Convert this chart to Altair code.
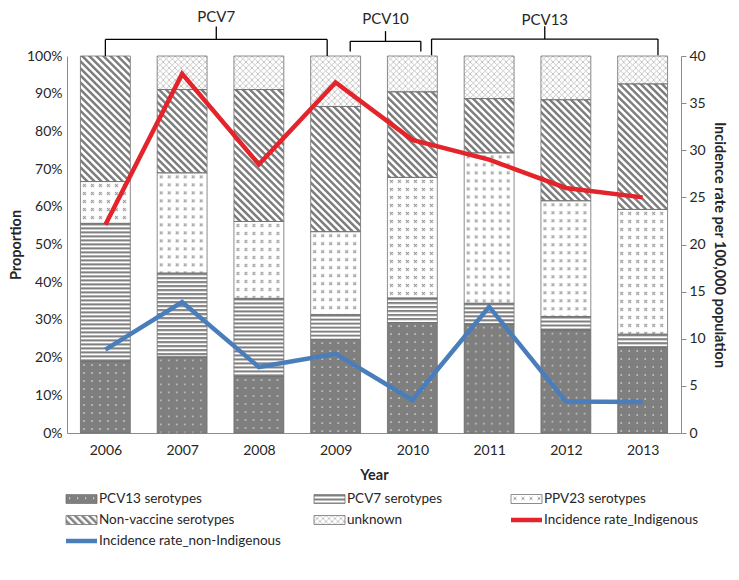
import urllib.parse
import altair as alt
import pandas as pd

# ---------------- data ----------------
years = [2006, 2007, 2008, 2009, 2010, 2011, 2012, 2013]
series = ["PCV13 serotypes", "PCV7 serotypes", "PPV23 serotypes",
          "Non-vaccine serotypes", "unknown"]
pcv13 = [19.0, 20.2, 15.0, 24.8, 29.3, 28.9, 27.3, 22.7]
pcv7 = [36.6, 22.2, 20.7, 6.6, 6.5, 5.5, 3.6, 3.5]
ppv23 = [11.1, 26.6, 20.4, 22.0, 32.0, 39.9, 30.7, 33.1]
nonvaccine = [33.3, 22.1, 35.0, 33.2, 22.7, 14.4, 26.8, 33.3]
unknown = [0.0, 8.9, 8.9, 13.4, 9.5, 11.3, 11.6, 7.4]

line_names = ["Incidence rate_Indigenous", "Incidence rate_non-Indigenous"]
rate_indigenous = [22.1, 38.1, 28.5, 37.2, 31.1, 29.0, 26.0, 25.0]
rate_non_indigenous = [8.85, 13.9, 7.0, 8.4, 3.5, 13.4, 3.35, 3.3]

brackets = ["PCV7", "PCV10", "PCV13"]
bracket_start = [2006.0, 2009.19, 2010.25]
bracket_end = [2008.89, 2010.11, 2013.2]

# ---------------- style ----------------
FONT = "Lato"
TXT = "#262626"
AXIS_GRAY = "#8c8c8c"
BAR_HALF = 0.325
PLOT_W, PLOT_H = 614, 377
RED, BLUE = "#E3242B", "#4A7EBB"
bracket_style = {
    "PCV7": dict(foot=100.0, bar=104.4, top=107.8, label=110.3),
    "PCV10": dict(foot=101.2, bar=103.9, top=106.6, label=109.7),
    "PCV13": dict(foot=100.2, bar=104.5, top=107.9, label=109.6),
}


def pattern_url(w, h, content, transform=""):
    tr = f" patternTransform='{transform}'" if transform else ""
    svg = ("<svg xmlns='http://www.w3.org/2000/svg' width='100%' height='100%'>"
           f"<defs><pattern id='p' patternUnits='userSpaceOnUse' width='{w}' height='{h}'{tr}>"
           f"{content}</pattern></defs>"
           "<rect width='100%' height='100%' fill='url(#p)'/></svg>")
    return "data:image/svg+xml;charset=utf-8," + urllib.parse.quote(svg)


URL = {
    "PCV13 serotypes": pattern_url(8, 8, "<rect width='8' height='8' fill='#7f7f7f'/>"
                                   "<rect x='3' y='3' width='1.2' height='1.2' fill='#ffffff'/>"),
    "PCV7 serotypes": pattern_url(4, 4, "<rect width='4' height='4' fill='#ffffff'/>"
                                  "<rect width='4' height='2' fill='#808080'/>"),
    "PPV23 serotypes": pattern_url(8, 8, "<rect width='8' height='8' fill='#ffffff'/>"
                                   "<path d='M2.5 2.5 L5.5 5.5 M5.5 2.5 L2.5 5.5' stroke='#8c8c8c' stroke-width='0.9'/>"),
    "Non-vaccine serotypes": pattern_url(5, 5, "<rect width='5' height='5' fill='#ffffff'/>"
                                         "<rect width='2.5' height='5' fill='#7f7f7f'/>", "rotate(-45)"),
    "unknown": pattern_url(6, 6, "<rect width='6' height='6' fill='#ffffff'/>"
                           "<path d='M0 0 L6 6 M6 0 L0 6' stroke='#b8b8b8' stroke-width='0.8'/>"),
}
FALLBACK = ["#8a8a8a", "#c0c0c0", "#f0f0f0", "#bdbdbd", "#ececec"]

# ---------------- tables ----------------
values = [pcv13, pcv7, ppv23, nonvaccine, unknown]
rows = []
for i, yr in enumerate(years):
    cum = 0.0
    for s, vals in zip(series, values):
        v = vals[i]
        if v > 0:
            rows.append(dict(year=yr, series=s, y0=cum, y1=cum + v,
                             x0=yr - BAR_HALF, x1=yr + BAR_HALF))
        cum += v
df_bars = pd.DataFrame(rows)

df_lines = pd.DataFrame(
    [dict(year=y, rate=r, group=line_names[0]) for y, r in zip(years, rate_indigenous)] +
    [dict(year=y, rate=r, group=line_names[1]) for y, r in zip(years, rate_non_indigenous)])

seg, lab = [], []
for b, s0, s1 in zip(brackets, bracket_start, bracket_end):
    st = bracket_style[b]
    mid = (s0 + s1) / 2
    seg += [dict(x=s0, x2=s1, y=st["bar"], y2=st["bar"]),
            dict(x=s0, x2=s0, y=st["foot"], y2=st["bar"]),
            dict(x=s1, x2=s1, y=st["foot"], y2=st["bar"]),
            dict(x=mid, x2=mid, y=st["bar"], y2=st["top"])]
    lab.append(dict(x=mid, y=st["label"], text=b))
df_seg = pd.DataFrame(seg)
df_lab = pd.DataFrame(lab)

# ---------------- main chart ----------------
xs = alt.Scale(domain=[2005.5, 2013.5], nice=False, zero=False)
ys = alt.Scale(domain=[0, 100], nice=False, zero=False)
ys2 = alt.Scale(domain=[0, 40], nice=False, zero=False)

x_axis = alt.Axis(values=years, format="d", ticks=False, grid=False, title="Year",
                  domainColor=AXIS_GRAY, labelPadding=10, titlePadding=11)
y_axis = alt.Axis(values=list(range(0, 101, 10)), labelExpr="datum.value + '%'",
                  ticks=False, grid=False, title="Proportion", domainColor=AXIS_GRAY,
                  labelPadding=5, titlePadding=3)
y2_axis = alt.Axis(values=list(range(0, 41, 5)), orient="right", grid=False,
                   ticks=True, tickSize=5, tickColor=AXIS_GRAY, domainColor=AXIS_GRAY,
                   title="Incidence rate per 100,000 population", labelPadding=3,
                   titlePadding=6)


def X(field):
    return alt.X(field, scale=xs, axis=x_axis)


def Y(field):
    return alt.Y(field, scale=ys, axis=y_axis)


def Y2(field):
    return alt.Y(field, scale=ys2, axis=y2_axis)


bars_base = alt.Chart(df_bars)
fallback = bars_base.mark_rect().encode(
    x=X("x0:Q"), x2="x1:Q", y=Y("y0:Q"), y2="y1:Q",
    fill=alt.Fill("series:N", scale=alt.Scale(domain=series, range=FALLBACK), legend=None))

image_layers = [
    bars_base.transform_filter(alt.datum.series == s).mark_image(aspect=False).encode(
        x=X("x0:Q"), x2="x1:Q", y=Y("y0:Q"), y2="y1:Q", url=alt.value(URL[s]))
    for s in series]

outline = bars_base.mark_rect(fillOpacity=0, stroke="#707070", strokeWidth=0.8).encode(
    x=X("x0:Q"), x2="x1:Q", y=Y("y0:Q"), y2="y1:Q")

bracket_rules = alt.Chart(df_seg).mark_rule(color="#000000", strokeWidth=1.3).encode(
    x=X("x:Q"), x2="x2:Q", y=Y("y:Q"), y2="y2:Q")
bracket_text = alt.Chart(df_lab).mark_text(fontSize=15, color=TXT, font=FONT,
                                           baseline="middle").encode(
    x=X("x:Q"), y=Y("y:Q"), text="text:N")

left = alt.layer(fallback, *image_layers, outline, bracket_rules, bracket_text)

line_ind = alt.Chart(df_lines).transform_filter(alt.datum.group == line_names[0]).mark_line(
    strokeWidth=4.5, color=RED).encode(x=X("year:Q"), y=Y2("rate:Q"))
line_non = alt.Chart(df_lines).transform_filter(alt.datum.group == line_names[1]).mark_line(
    strokeWidth=4.5, color=BLUE).encode(x=X("year:Q"), y=Y2("rate:Q"))
right = alt.layer(line_ind, line_non)

main = alt.layer(left, right).resolve_scale(y="independent").properties(
    width=PLOT_W, height=PLOT_H)

# ---------------- legend chart ----------------
LEG_W, LEG_H = PLOT_W, 60
col_x = [-1, 247, 444]
row_y = [9, 30, 51]
SW, SH = 31, 9
leg_labels = series + line_names
leg_rows = []
for i, name in enumerate(leg_labels):
    cx, cy = col_x[i % 3], row_y[i // 3]
    leg_rows.append(dict(label=name, x0=cx, x1=cx + SW, y0=cy - SH / 2, y1=cy + SH / 2,
                         ym=cy, tx=cx + SW + 2))
df_leg = pd.DataFrame(leg_rows)
lx = alt.Scale(domain=[0, LEG_W], nice=False, zero=False)
ly = alt.Scale(domain=[0, LEG_H], nice=False, zero=False, reverse=True)

leg_base = alt.Chart(df_leg)
leg_images = [
    leg_base.transform_filter(alt.datum.label == s).mark_image(aspect=False).encode(
        x=alt.X("x0:Q", scale=lx, axis=None), x2="x1:Q",
        y=alt.Y("y0:Q", scale=ly, axis=None), y2="y1:Q", url=alt.value(URL[s]))
    for s in series]
leg_outline = leg_base.transform_filter(
    alt.FieldOneOfPredicate(field="label", oneOf=series)).mark_rect(
    fillOpacity=0, stroke="#707070", strokeWidth=0.8).encode(
    x=alt.X("x0:Q", scale=lx, axis=None), x2="x1:Q",
    y=alt.Y("y0:Q", scale=ly, axis=None), y2="y1:Q")
leg_lines = [
    leg_base.transform_filter(alt.datum.label == nm).mark_rule(strokeWidth=4.5, color=c).encode(
        x=alt.X("x0:Q", scale=lx, axis=None), x2="x1:Q",
        y=alt.Y("ym:Q", scale=ly, axis=None))
    for nm, c in zip(line_names, [RED, BLUE])]
leg_text = leg_base.mark_text(align="left", baseline="middle", fontSize=13.5, color=TXT,
                              font=FONT).encode(
    x=alt.X("tx:Q", scale=lx, axis=None), y=alt.Y("ym:Q", scale=ly, axis=None),
    text="label:N")
legend = alt.layer(*leg_images, leg_outline, *leg_lines, leg_text).properties(
    width=LEG_W, height=LEG_H)

chart = alt.vconcat(main, legend, spacing=8).properties(
    padding={"left": 0, "top": 2, "right": 3, "bottom": 0}
).configure(font=FONT).configure_view(stroke=None).configure_axis(
    labelFont=FONT, titleFont=FONT, labelFontSize=14, titleFontSize=14.5,
    labelColor=TXT, titleColor=TXT, titleFontWeight="bold")

chart.save("out.html", embed_options={"renderer": "svg", "actions": False})
